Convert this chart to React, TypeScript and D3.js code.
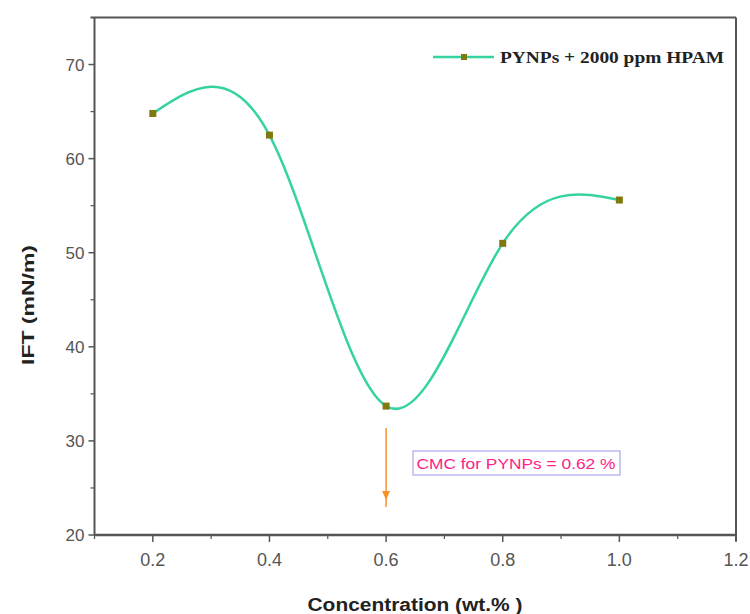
import React from "react";
import * as d3 from "d3";

const concentrations = [0.2, 0.4, 0.6, 0.8, 1.0];
const iftValues = [64.8, 62.5, 33.7, 51.0, 55.6];
const xTickValues = [0.2, 0.4, 0.6, 0.8, 1.0, 1.2];
const xMinorTicks = [0.1, 0.3, 0.5, 0.7, 0.9, 1.1];
const yTickValues = [20, 30, 40, 50, 60, 70];
const yMinorTicks = [25, 35, 45, 55, 65];
const seriesName = "PYNPs + 2000 ppm HPAM";
const cmcLabel = "CMC for PYNPs = 0.62 %";
const cmcX = 0.6;

const W = 750;
const H = 614;
const L = 94.5, R = 736, T = 17.5, B = 535;

export default function App() {
  const x = d3.scaleLinear().domain([0.1, 1.2]).range([L, R]);
  const y = d3.scaleLinear().domain([20, 75]).range([B, T]);
  const pts = concentrations.map((c, i) => [x(c), y(iftValues[i])] as [number, number]);
  const line = d3.line().curve(d3.curveNatural)(pts) || "";
  const axisColor = "#555";
  const lineColor = "#36d3a2";
  const markColor = "#7f7a10";
  const cx = x(cmcX);
  const sans = "Liberation Sans, Arial, sans-serif";
  return (
    <div style={{ position: "fixed", left: 0, top: 0 }}>
      <svg width={W} height={H} style={{ display: "block", background: "#fff" }}>
        {/* frame */}
        <line x1={L - 4} x2={R} y1={T} y2={T} stroke={axisColor} strokeWidth={2} />
        <line x1={R} x2={R} y1={T} y2={B + 6} stroke={axisColor} strokeWidth={2} />
        <line x1={L} x2={L} y1={T} y2={B} stroke={axisColor} strokeWidth={2} />
        <line x1={L} x2={R} y1={B} y2={B} stroke={axisColor} strokeWidth={2.5} />
        {/* y ticks */}
        {yTickValues.map((v) => (
          <g key={"y" + v}>
            <line x1={L - 6} x2={L} y1={y(v)} y2={y(v)} stroke={axisColor} strokeWidth={1.5} />
            <text x={L - 10} y={y(v)} dy="0.36em" textAnchor="end" fontFamily={sans} fontSize={17} fill="#555">{v}</text>
          </g>
        ))}
        {yMinorTicks.map((v) => (
          <line key={"ym" + v} x1={L - 4} x2={L} y1={y(v)} y2={y(v)} stroke={axisColor} strokeWidth={1.2} />
        ))}
        {/* x ticks */}
        {xTickValues.map((v) => (
          <g key={"x" + v}>
            <line x1={x(v)} x2={x(v)} y1={B} y2={B + 7} stroke={axisColor} strokeWidth={1.5} />
            <text x={x(v)} y={B + 31} textAnchor="middle" fontFamily={sans} fontSize={18} fill="#555">{v.toFixed(1)}</text>
          </g>
        ))}
        {xMinorTicks.map((v) => (
          <line key={"xm" + v} x1={x(v)} x2={x(v)} y1={B} y2={B + 4} stroke={axisColor} strokeWidth={1.2} />
        ))}
        {/* axis titles */}
        <text x={415} y={611} textAnchor="middle" fontFamily={sans} fontWeight="bold" fontSize={18} fill="#222" textLength={215} lengthAdjust="spacingAndGlyphs">Concentration (wt.% )</text>
        <text transform={`translate(34,${305}) rotate(-90)`} textAnchor="middle" fontFamily={sans} fontWeight="bold" fontSize={17} fill="#222" textLength={120} lengthAdjust="spacingAndGlyphs">IFT (mN/m)</text>
        {/* curve */}
        <path d={line} fill="none" stroke={lineColor} strokeWidth={2.5} />
        {pts.map((p, i) => (
          <rect key={"m" + i} x={p[0] - 3.5} y={p[1] - 3.5} width={7} height={7} fill={markColor} />
        ))}
        {/* legend */}
        <line x1={433} x2={494} y1={57} y2={57} stroke={lineColor} strokeWidth={2.5} />
        <rect x={464 - 3} y={57 - 3} width={6} height={6} fill={markColor} />
        <text x={500} y={63} fontFamily="Liberation Serif, Times New Roman, serif" fontWeight="bold" fontSize={17} fill="#222" textLength={224} lengthAdjust="spacingAndGlyphs">{seriesName}</text>
        {/* CMC arrow */}
        <line x1={cx} x2={cx} y1={428} y2={507} stroke="#f7922a" strokeWidth={1.5} />
        <path d={`M${cx - 4},${491} L${cx + 4},${491} L${cx},${500} Z`} fill="#f7922a" />
        {/* CMC box */}
        <rect x={413} y={451} width={207} height={24} fill="#fff" stroke="#a9a6ee" strokeWidth={1.2} />
        <text x={416.5} y={468.5} fontFamily={sans} fontSize={15} fill="#ff2287" textLength={199} lengthAdjust="spacingAndGlyphs">{cmcLabel}</text>
      </svg>
    </div>
  );
}
